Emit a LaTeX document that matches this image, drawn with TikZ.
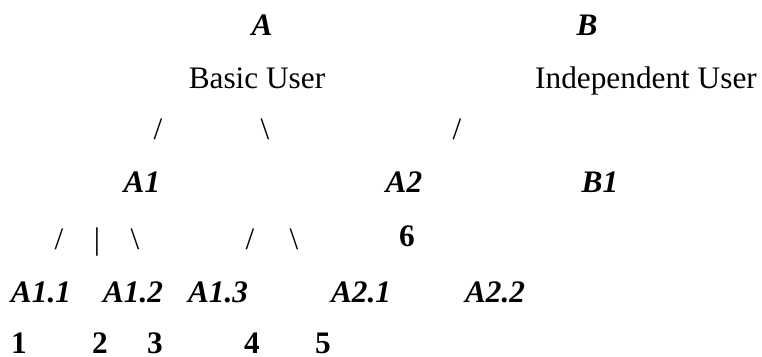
\documentclass[tikz,border=0pt]{standalone}
\usepackage{fontspec}
\setmainfont{Liberation Serif}
\begin{document}
\begin{tikzpicture}[x=1pt,y=-1pt,
  every node/.style={inner sep=0pt,outer sep=0pt,anchor=base,font=\fontsize{31.3}{36}\selectfont},
  lbl/.style={font=\fontsize{31.3}{36}\selectfont\bfseries\itshape},
  num/.style={font=\fontsize{31.3}{36}\selectfont\bfseries},
  txt/.style={font=\fontsize{31.3}{36}\selectfont},
  lnk/.style={font=\fontsize{31.3}{36}\selectfont}]
\useasboundingbox (0,0) rectangle (762,356);
% row 1
\node[lbl] (A) at (262,35) {A};
\node[lbl] (B) at (587,35) {B};
% row 2
\node[txt] (basic) at (257,88) {Basic User};
\node[txt] (indep) at (646,88) {Independent User};
% row 3
\node[lnk] (s1) at (158,139) {/};
\node[lnk] (s2) at (265,139) {\textbackslash};
\node[lnk] (s3) at (457,139) {/};
% row 4
\node[lbl] (A1) at (142,192) {A1};
\node[lbl] (A2) at (404,192) {A2};
\node[lbl] (B1) at (600,192) {B1};
% row 5
\node[lnk] (t1) at (59,249) {/};
\node[lnk] (t2) at (97,249) {|};
\node[lnk] (t3) at (135,249) {\textbackslash};
\node[lnk] (t4) at (250,249) {/};
\node[lnk] (t5) at (294,249) {\textbackslash};
\node[num] (n6) at (407,246) {6};
% row 6
\node[lbl] (A11) at (41,302) {A1.1};
\node[lbl] (A12) at (133,302) {A1.2};
\node[lbl] (A13) at (218,302) {A1.3};
\node[lbl] (A21) at (361,302) {A2.1};
\node[lbl] (A22) at (495,302) {A2.2};
% row 7
\node[num] (n1) at (19,353) {1};
\node[num] (n2) at (100,353) {2};
\node[num] (n3) at (155,353) {3};
\node[num] (n4) at (252,353) {4};
\node[num] (n5) at (323,353) {5};
\end{tikzpicture}
\end{document}
